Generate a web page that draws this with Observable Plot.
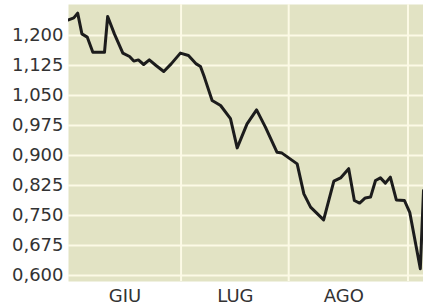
<!DOCTYPE html>
<html>
<head>
<meta charset="utf-8">
<script src="https://cdn.jsdelivr.net/npm/d3@7"></script>
<script src="https://cdn.jsdelivr.net/npm/@observablehq/plot@0.6"></script>
<style>
  html, body { margin: 0; padding: 0; background: #fff; }
  #chart svg { display: block; }
</style>
</head>
<body>
<div id="chart"></div>
<script>
// Day offsets (from 1 June) and values
const days = [-1.5, 0, 1.1, 2.3, 3.8, 5.4, 8.7, 9.6, 11.5, 13.9, 15.8, 17.0, 18.3, 19.8, 21.4, 23.3, 25.5, 27.6, 30.2, 32.5, 34.7, 35.9, 37.0, 39.2, 41.6, 44.4, 46.3, 49.1, 51.8, 54.3, 57.6, 59.0, 63.3, 65.2, 67.1, 70.8, 73.7, 75.6, 77.9, 79.5, 81.0, 82.6, 84.1, 85.5, 86.9, 88.3, 89.7, 91.4, 93.7, 95.2, 98.2, 99.1];
const values = [1.239, 1.244, 1.256, 1.204, 1.196, 1.158, 1.158, 1.2475, 1.204, 1.156, 1.1475, 1.136, 1.139, 1.1275, 1.139, 1.125, 1.110, 1.129, 1.156, 1.150, 1.129, 1.1225, 1.096, 1.0375, 1.025, 0.992, 0.919, 0.979, 1.014, 0.971, 0.908, 0.906, 0.879, 0.804, 0.771, 0.739, 0.836, 0.844, 0.867, 0.7875, 0.781, 0.794, 0.796, 0.8375, 0.844, 0.831, 0.846, 0.789, 0.7875, 0.758, 0.617, 0.8125];

const monthTicks = [14.5, 45.8, 76.5];
const monthLabels = ["GIU", "LUG", "AGO"];
const monthGrid = [30.4, 60.9, 94.7];
const yTicks = [0.600, 0.675, 0.750, 0.825, 0.900, 0.975, 1.050, 1.125, 1.200];

const data = days.map((d, i) => ({d, v: values[i]}));

const chart = Plot.plot({
  width: 423,
  height: 308,
  marginLeft: 68,
  marginRight: 0,
  marginTop: 4,
  marginBottom: 27,
  style: {fontFamily: "DejaVu Sans", fontSize: "18px", color: "#333", background: "white"},
  x: {domain: [-1.5, 99.1], axis: null},
  y: {domain: [0.585, 1.2775], axis: null},
  marks: [
    Plot.frame({fill: "#e2e3c4", stroke: null}),
    Plot.gridY(yTicks, {stroke: "#fcfae6", strokeOpacity: 1, strokeWidth: 2}),
    Plot.gridX(monthGrid, {stroke: "#fcfae6", strokeOpacity: 1, strokeWidth: 2}),
    Plot.axisY(yTicks, {tickSize: 0, tickPadding: 5, label: null, tickFormat: d => d.toFixed(3).replace(".", ",")}),
    Plot.axisX(monthTicks, {tickSize: 0, tickPadding: 8, label: null, tickFormat: d => monthLabels[monthTicks.indexOf(d)]}),
    Plot.line(data, {x: "d", y: "v", stroke: "#1c1c1c", strokeWidth: 3, strokeLinejoin: "round", clip: true})
  ]
});
document.getElementById("chart").appendChild(chart);
</script>
</body>
</html>
